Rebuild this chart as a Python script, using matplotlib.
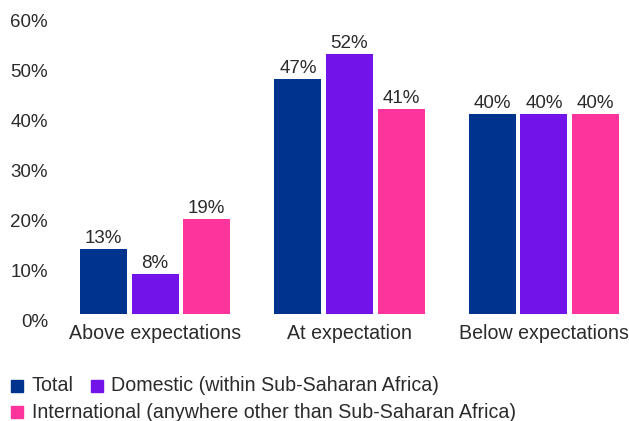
import matplotlib
matplotlib.use("Agg")
import matplotlib.pyplot as plt
from matplotlib.patches import Rectangle
import numpy as np

categories = ["Above expectations", "At expectation", "Below expectations"]
series_names = ["Total", "Domestic (within Sub-Saharan Africa)",
                "International (anywhere other than Sub-Saharan Africa)"]
total = [13, 47, 40]
domestic = [8, 52, 40]
international = [19, 41, 40]
yticks = [0, 10, 20, 30, 40, 50, 60]
colors = ["#00338D", "#7213EA", "#FD349C"]
text_color = "#2b2b2b"
fs = 13.5
fs_text = 14.1

plt.rcParams['font.family'] = ['Liberation Sans', 'DejaVu Sans']
W, H = 629, 421
fig = plt.figure(figsize=(W / 100, H / 100), dpi=100)
ax = fig.add_axes([80 / W, 107 / H, 539 / W, 300 / H])

x = np.arange(len(categories))
step = 0.265
width = 0.2417
all_series = [total, domestic, international]
for i, (vals, c) in enumerate(zip(all_series, colors)):
    pos = x + (i - 1) * step
    bars = ax.bar(pos, vals, width=width, color=c)
    for b, v in zip(bars, vals):
        ax.annotate(f"{v}%", (b.get_x() + b.get_width() / 2, v),
                    xytext=(0, 1.5), textcoords="offset points",
                    ha="center", va="bottom", fontsize=fs, color=text_color)

ax.set_xlim(-0.386, 2.386)
ax.set_ylim(0, 60)
ax.set_yticks(yticks)
ax.set_yticklabels([f"{t}%" for t in yticks], fontsize=fs, color=text_color,
                   va="top")
ax.tick_params(axis="y", length=0, pad=23)
ax.set_xticks(x)
ax.set_xticklabels(categories, fontsize=fs_text, color=text_color)
ax.tick_params(axis="x", length=0, pad=7.5)
for s in ax.spines.values():
    s.set_visible(False)

# Legend (flowing layout)
def legend_item(px, py, color, label, tx):
    fig.patches.append(Rectangle((px / W, (H - py - 6) / H), 12 / W, 12 / H,
                                 transform=fig.transFigure, color=color))
    fig.text(tx / W, (H - py) / H, label, fontsize=fs_text,
             color=text_color, va="center", ha="left")

legend_item(11, 385.5, colors[0], series_names[0], 32)
legend_item(91, 385.5, colors[1], series_names[1], 111)
legend_item(11, 412, colors[2], series_names[2], 32)

fig.savefig("out.png", dpi=100)
